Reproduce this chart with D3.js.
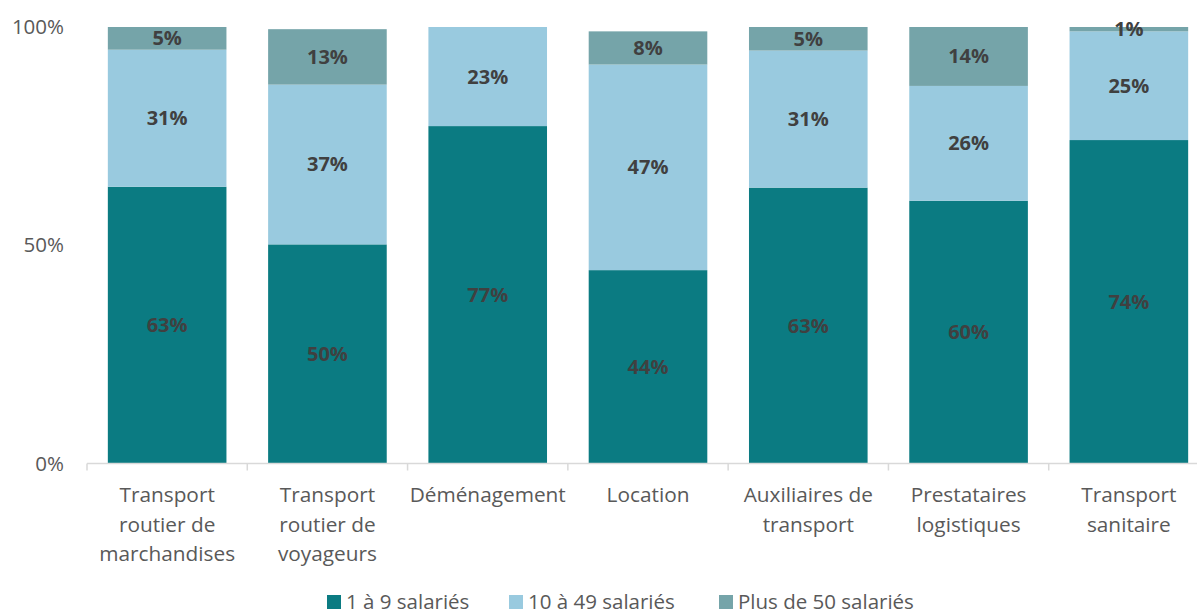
<!DOCTYPE html>
<html>
<head>
<meta charset="utf-8">
<script src="https://cdn.jsdelivr.net/npm/d3@7"></script>
<style>
  body { margin: 0; background: #fff; }
  text { font-family: "Open Sans", Lato, sans-serif; }
</style>
</head>
<body>
<div id="chart"></div>
<script>
// categories and series (percent of companies by size)
const categories = [
    "Transport routier de marchandises",
    "Transport routier de voyageurs",
    "Déménagement",
    "Location",
    "Auxiliaires de transport",
    "Prestataires logistiques",
    "Transport sanitaire"
];
const labelLines = [
    ["Transport", "routier de", "marchandises"],
    ["Transport", "routier de", "voyageurs"],
    ["Déménagement"],
    ["Location"],
    ["Auxiliaires de", "transport"],
    ["Prestataires", "logistiques"],
    ["Transport", "sanitaire"]
];
const seriesNames = ["1 à 9 salariés", "10 à 49 salariés", "Plus de 50 salariés"];
const small = [63.4, 50.2, 77.3, 44.3, 63.2, 60.2, 74.1];
const medium = [31.4, 36.6, 22.7, 47.1, 31.4, 26.3, 24.9];
const large = [5.2, 12.7, 0, 7.6, 5.4, 13.5, 1.0];
const yTicks = [0, 50, 100];
const colors = ["#0b7b82", "#99cadf", "#75a4a9"];

const width = 1197;
const height = 615;

var svg = d3.select("#chart")
    .append("svg")
    .attr("width", width)
    .attr("height", height);

var x = d3.scaleBand()
    .domain(categories)
    .range([87, 1209])
    .paddingInner(0.26)
    .paddingOuter(0.13);

var y = d3.scaleLinear()
    .domain([0, 100])
    .range([463.5, 27]);

// build stacked data
var rows = categories.map(function (c, i) {
    return { cat: c, s0: small[i], s1: medium[i], s2: large[i] };
});
var stack = d3.stack().keys(["s0", "s1", "s2"])(rows);

// y tick labels
svg.selectAll(".ytick")
    .data(yTicks)
    .join("text")
    .attr("x", 64)
    .attr("y", function (d) { return y(d); })
    .attr("dy", "0.35em")
    .attr("text-anchor", "end")
    .attr("font-size", 20.5)
    .attr("fill", "#595959")
    .text(function (d) { return d + "%"; });

// bars
var layers = svg.selectAll(".layer")
    .data(stack)
    .join("g")
    .attr("fill", function (d, i) { return colors[i]; });

layers.selectAll("rect")
    .data(function (d) { return d; })
    .join("rect")
    .attr("x", function (d) { return x(d.data.cat); })
    .attr("width", x.bandwidth())
    .attr("y", function (d) { return y(d[1]); })
    .attr("height", function (d) { return y(d[0]) - y(d[1]); });

// value labels
layers.selectAll("text")
    .data(function (d) { return d.filter(function (p) { return p[1] - p[0] > 0; }); })
    .join("text")
    .attr("x", function (d) { return x(d.data.cat) + x.bandwidth() / 2; })
    .attr("y", function (d) { return (y(d[0]) + y(d[1])) / 2; })
    .attr("dy", "0.35em")
    .attr("text-anchor", "middle")
    .attr("font-size", 20)
    .attr("font-weight", "bold")
    .attr("fill", "#404040")
    .text(function (d) { return Math.round(d[1] - d[0]) + "%"; });

// x axis line and ticks
var axis = svg.append("g").attr("stroke", "#d9d9d9").attr("stroke-width", 1.5);
axis.append("line")
    .attr("x1", 87).attr("x2", 1209)
    .attr("y1", y(0)).attr("y2", y(0));
var step = x.step();
axis.selectAll(".tick")
    .data(d3.range(categories.length + 1))
    .join("line")
    .attr("x1", function (i) { return 87 + i * step; })
    .attr("x2", function (i) { return 87 + i * step; })
    .attr("y1", y(0)).attr("y2", y(0) + 7);

// category labels
svg.selectAll(".xlabel")
    .data(categories)
    .join("text")
    .attr("text-anchor", "middle")
    .attr("font-size", 20.8)
    .attr("fill", "#595959")
    .each(function (d, i) {
        var t = d3.select(this);
        labelLines[i].forEach(function (line, k) {
            t.append("tspan")
                .attr("x", x(d) + x.bandwidth() / 2)
                .attr("y", 502 + k * 29.5)
                .text(line);
        });
    });

// legend
var legendX = [327, 509, 719];
var legend = svg.selectAll(".legend")
    .data(seriesNames)
    .join("g")
    .attr("transform", function (d, i) { return "translate(" + legendX[i] + ",602)"; });
legend.append("rect")
    .attr("x", 0).attr("y", -7)
    .attr("width", 14).attr("height", 14)
    .attr("fill", function (d, i) { return colors[i]; });
legend.append("text")
    .attr("x", 19)
    .attr("y", 0)
    .attr("dy", "0.33em")
    .attr("font-size", 20.5)
    .attr("fill", "#595959")
    .text(function (d) { return d; });
</script>
</body>
</html>
